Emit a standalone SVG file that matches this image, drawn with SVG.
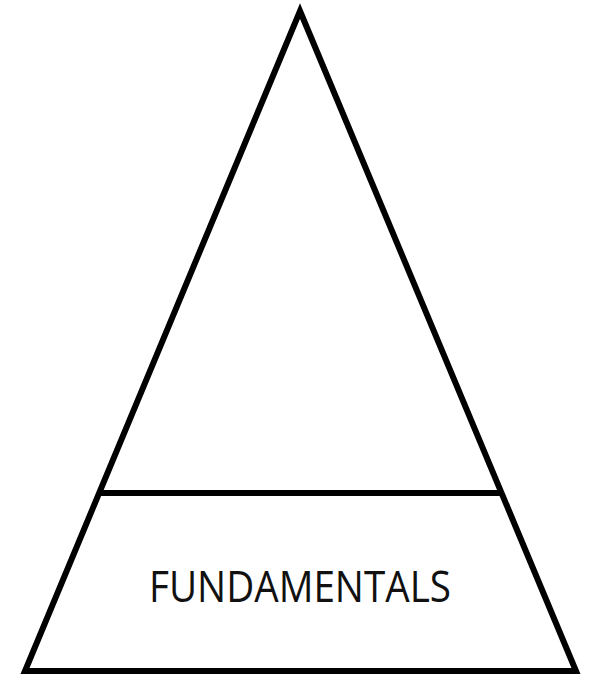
<svg xmlns="http://www.w3.org/2000/svg" width="590" height="679" viewBox="0 0 590 679">
<style>
.ln{fill:none;stroke:#000;stroke-width:6;stroke-linejoin:miter}
.lbl{font-family:"Open Sans","Liberation Sans",sans-serif;font-size:43px;fill:#111}
</style>
<rect width="590" height="679" fill="#fff"/>
<g id="pyramid">
<polygon class="ln" points="300,11 576,671 25,671"/>
</g>
<g id="divider">
<line class="ln" x1="100" y1="493" x2="501" y2="493"/>
</g>
<g id="fundamentals">
<text class="lbl" x="300" y="602" text-anchor="middle" textLength="302" lengthAdjust="spacingAndGlyphs">FUNDAMENTALS</text>
</g>
</svg>
